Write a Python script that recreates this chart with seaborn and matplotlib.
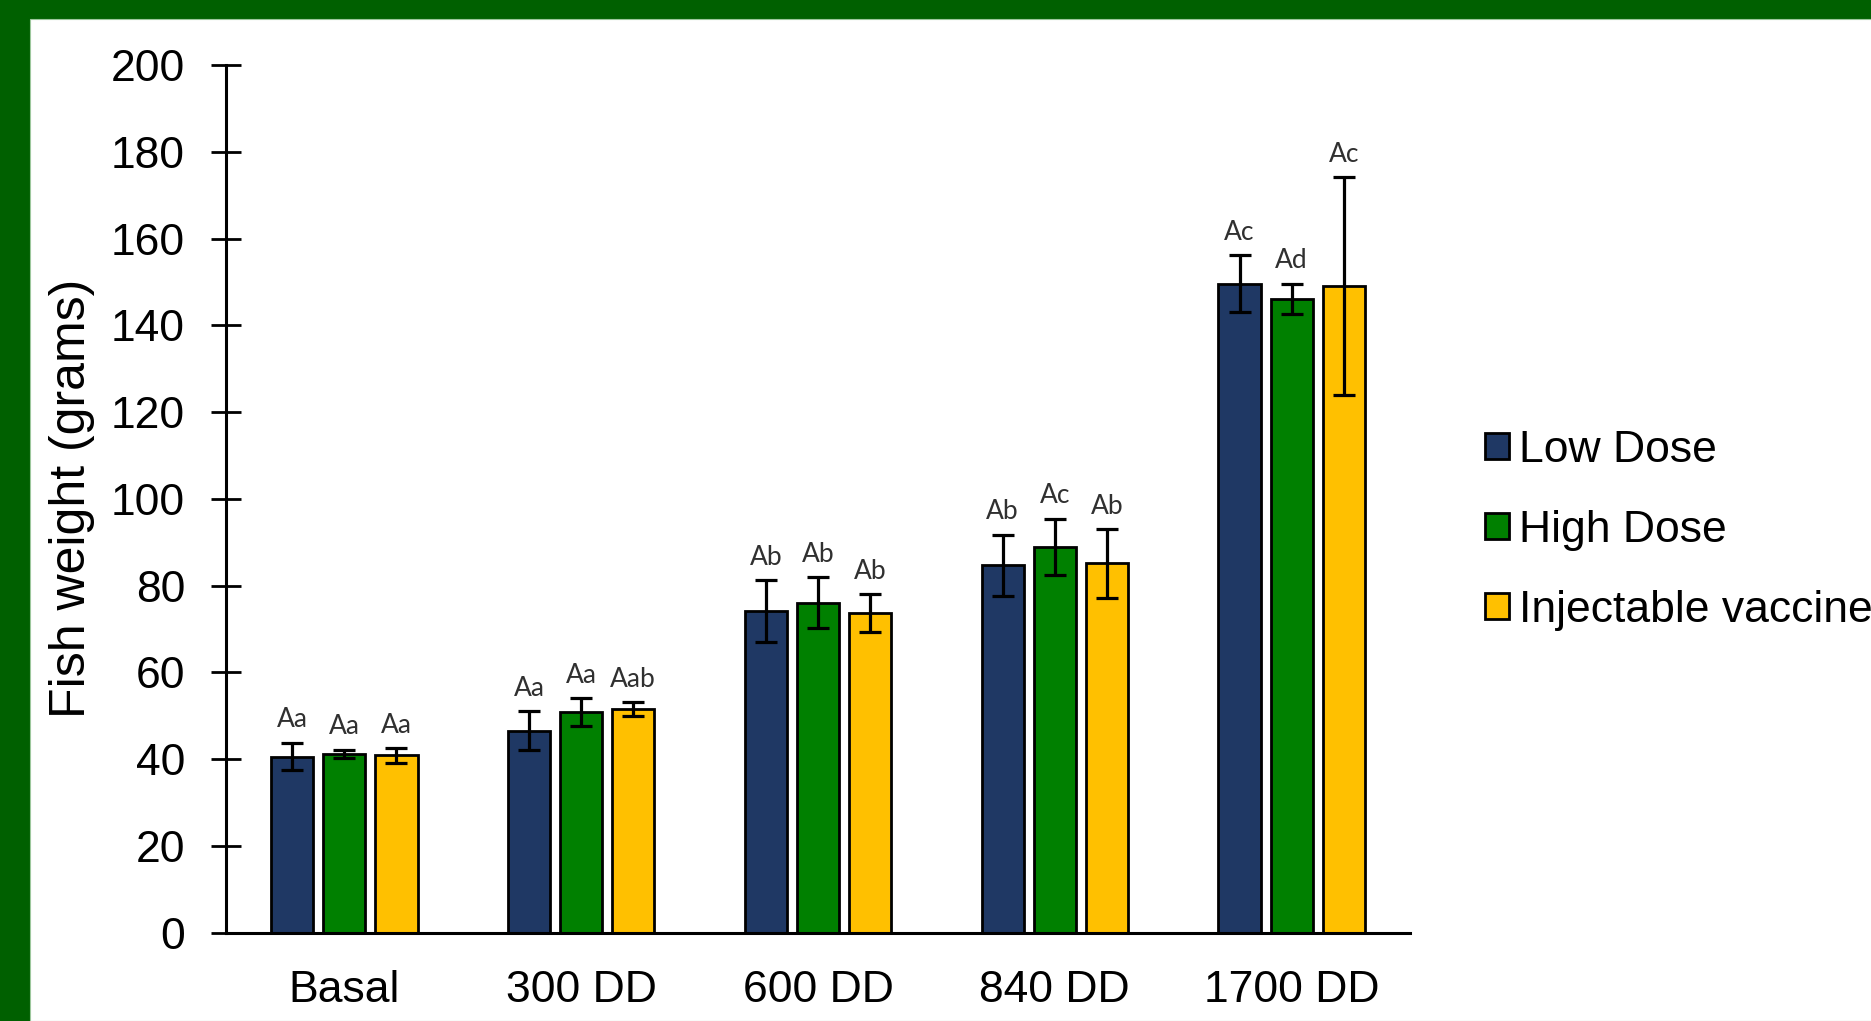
import matplotlib
matplotlib.use("Agg")
import matplotlib.pyplot as plt
import pandas as pd
import seaborn as sns
from matplotlib.patches import Rectangle, Patch

# ---- data ----
categories = ["Basal", "300 DD", "600 DD", "840 DD", "1700 DD"]
groups = ["Low Dose", "High Dose", "Injectable vaccine"]
low_dose = [40.6, 46.6, 74.2, 84.7, 149.6]
high_dose = [41.2, 50.8, 76.1, 89.0, 146.1]
injectable = [40.9, 51.5, 73.6, 85.1, 149.1]
low_err = [3.2, 4.4, 7.1, 7.05, 6.5]
high_err = [1.0, 3.2, 5.8, 6.45, 3.5]
inj_err = [1.7, 1.6, 4.4, 7.95, 25.1]
low_letters = ["Aa", "Aa", "Ab", "Ab", "Ac"]
high_letters = ["Aa", "Aa", "Ab", "Ac", "Ad"]
inj_letters = ["Aa", "Aab", "Ab", "Ab", "Ac"]
y_ticks = [0, 20, 40, 60, 80, 100, 120, 140, 160, 180, 200]
y_label = "Fish weight (grams)"
colors = ["#1F3864", "#008000", "#FFC000"]

values = [low_dose, high_dose, injectable]
errors = [low_err, high_err, inj_err]
letters = [low_letters, high_letters, inj_letters]

df = pd.DataFrame({
    "time": [c for _ in groups for c in categories],
    "group": [g for g in groups for _ in categories],
    "weight": [v for vals in values for v in vals],
})

sns.set_style("white")
plt.rcParams["font.family"] = ["Liberation Sans", "DejaVu Sans"]
plt.rcParams["text.color"] = "black"

W, H = 1871, 1021
green = "#006000"
fig = plt.figure(figsize=(W / 100, H / 100), dpi=100, facecolor=green)
fig.patches.append(Rectangle((30 / W, 0), 1.0, 1 - 19 / H, transform=fig.transFigure,
                             facecolor="white", edgecolor="#9cc79c", linewidth=0.8, zorder=-5))

ax = fig.add_axes([226 / W, 88.3 / H, 1184 / W, (956 - 88.3) / H])
ax.set_facecolor("none")
ax.set_zorder(2)

sns.barplot(data=df, x="time", y="weight", hue="group", order=categories, hue_order=groups,
            palette=colors, width=0.66, gap=0.19, edgecolor="black", linewidth=2.0,
            errorbar=None, saturation=1, legend=False, ax=ax)

for container, errs, labs in zip(ax.containers, errors, letters):
    bars = sorted(container.patches, key=lambda b: b.get_x())
    xs = [b.get_x() + b.get_width() / 2 for b in bars]
    ys = [b.get_height() for b in bars]
    ax.errorbar(xs, ys, yerr=errs, fmt="none", ecolor="black", elinewidth=2.3,
                capsize=8, capthick=2.3, zorder=4)
    for x, y, e, t in zip(xs, ys, errs, labs):
        ax.annotate(t, (x, y + e), xytext=(0, 11), textcoords="offset points",
                    ha="center", va="baseline", fontsize=19,
                    family=["Lato", "DejaVu Sans"], color="#303030")

ax.set_xlim(-0.5, len(categories) - 0.5)
ax.set_ylim(0, 200)
ax.set_yticks(y_ticks)
ax.set_xlabel("")
ax.set_ylabel(y_label, fontsize=36, color="black")
ax.yaxis.set_label_coords(-0.111, 0.5)

for s in ["top", "right"]:
    ax.spines[s].set_visible(False)
for s in ["left", "bottom"]:
    ax.spines[s].set_color("black")
    ax.spines[s].set_linewidth(2.2)

ax.tick_params(axis="y", direction="inout", length=21, width=2.0, pad=19,
               labelsize=32, colors="black", left=True)
ax.tick_params(axis="x", length=0, pad=27, labelsize=32, colors="black")

handles = [Patch(facecolor=c, edgecolor="black", linewidth=2.0) for c in colors]
leg = fig.legend(handles, groups, loc="center left",
                 bbox_to_anchor=(1485.4 / W, 1 - 530.5 / H), bbox_transform=fig.transFigure,
                 frameon=False, fontsize=32, handlelength=0.52, handleheight=0.52,
                 handletextpad=0.245, labelspacing=0.88, borderpad=0, borderaxespad=0)
for t in leg.get_texts():
    t.set_color("black")

fig.savefig("out.png", dpi=100, facecolor=fig.get_facecolor())
